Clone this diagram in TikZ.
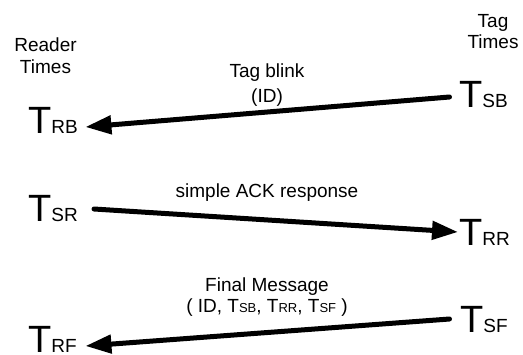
\documentclass[tikz,border=0pt]{standalone}
\usepackage{fontspec}
\setmainfont{Liberation Sans}
\usepackage{tikz}
\usetikzlibrary{arrows.meta, positioning, calc}

\newcommand{\lblfont}{\fontsize{19bp}{22bp}\selectfont}
\newcommand{\subfont}{\fontsize{13bp}{15bp}\selectfont}
\newcommand{\stamp}[1]{{\fontsize{38bp}{40bp}\selectfont T}{\lblfont #1}}
\newcommand{\smallstamp}[1]{T{\subfont #1}}

\tikzset{
  timenode/.style={inner sep=0pt, anchor=base west, font=\lblfont},
  lbl/.style={inner sep=0pt, anchor=base, font=\lblfont},
  msg/.style={line width=5bp, line cap=round, -{Triangle[length=26bp,width=18bp]}}
}

\begin{document}
\begin{tikzpicture}[x=1bp,y=-1bp]
\useasboundingbox (0,0) rectangle (523,354);

% Headings
\node[lbl] (reader1) at (45.5,51) {Reader};
\node[lbl] (reader2) at (45.5,73) {Times};
\node[lbl] (tag1) at (493,27) {Tag};
\node[lbl] (tag2) at (493,48) {Times};

% Time stamps
\node[timenode] (rb) at (28,133) {\stamp{RB}};
\node[timenode] (sb) at (459,107) {\stamp{SB}};
\node[timenode] (sr) at (28,221) {\stamp{SR}};
\node[timenode] (rr) at (459,245) {\stamp{RR}};
\node[timenode] (sf) at (460,332) {\stamp{SF}};
\node[timenode] (rf) at (28,352) {\stamp{RF}};

% Message labels
\node[lbl] (blink1) at (267,77) {Tag blink};
\node[lbl] (blink2) at (267,102.5) {(ID)};
\node[lbl] (ack) at (267,197) {simple ACK response};
\node[lbl] (final1) at (267,291) {Final Message};
\node[lbl] (final2) at (267,312) {( ID, \smallstamp{SB}, \smallstamp{RR}, \smallstamp{SF} )};

% Messages
\draw[msg] ([shift={(-9.5,-10)}]sb.base west) -- ([shift={(7.4,-6)}]rb.base east);
\draw[msg] ([shift={(16,-12)}]sr.base east) -- ([shift={(-1,-13)}]rr.base west);
\draw[msg] ([shift={(-10.5,-13)}]sf.base west) -- ([shift={(8.5,-6)}]rf.base east);
\end{tikzpicture}
\end{document}
